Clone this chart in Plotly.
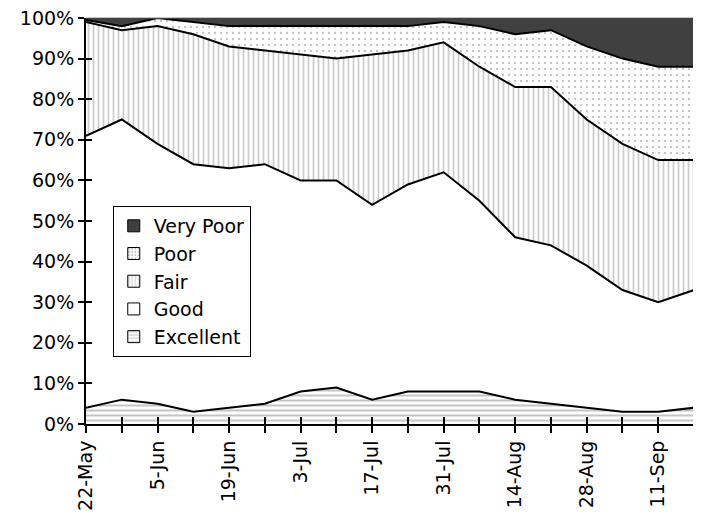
import plotly.graph_objects as go

dates = ["22-May", "29-May", "5-Jun", "12-Jun", "19-Jun", "26-Jun", "3-Jul", "10-Jul",
         "17-Jul", "24-Jul", "31-Jul", "7-Aug", "14-Aug", "21-Aug", "28-Aug", "4-Sep",
         "11-Sep", "18-Sep"]
tick_labels = ["22-May", "", "5-Jun", "", "19-Jun", "", "3-Jul", "", "17-Jul", "",
               "31-Jul", "", "14-Aug", "", "28-Aug", "", "11-Sep", ""]

excellent = [4, 6, 5, 3, 4, 5, 8, 9, 6, 8, 8, 8, 6, 5, 4, 3, 3, 4]
good = [67, 69, 64, 61, 59, 59, 52, 51, 48, 51, 54, 47, 40, 39, 35, 30, 27, 29]
fair = [28, 22, 29, 32, 30, 28, 31, 30, 37, 33, 32, 33, 37, 39, 36, 36, 35, 32]
poor = [0.5, 1, 2, 3, 5, 6, 7, 8, 7, 6, 5, 10, 13, 14, 18, 21, 23, 23]
very_poor = [0.5, 2, 0, 1, 2, 2, 2, 2, 2, 2, 1, 2, 4, 3, 7, 10, 12, 12]

x = list(range(len(dates)))

patterns = {
    "Excellent": dict(shape="-", fgcolor="#8a8a8a", bgcolor="white", size=5, solidity=0.4),
    "Good": None,
    "Fair": dict(shape="|", fgcolor="#9a9a9a", bgcolor="white", size=5, solidity=0.35),
    "Poor": dict(shape=".", fgcolor="#888888", bgcolor="white", size=6, solidity=0.12),
    "Very Poor": None,
}
fills = {"Excellent": "white", "Good": "white", "Fair": "white", "Poor": "white",
         "Very Poor": "#404040"}

fig = go.Figure()
series = [("Excellent", excellent), ("Good", good), ("Fair", fair), ("Poor", poor),
          ("Very Poor", very_poor)]
for name, vals in series:
    kw = dict(fillcolor=fills[name])
    if patterns[name]:
        kw["fillpattern"] = patterns[name]
    fig.add_trace(go.Scatter(
        x=x, y=vals, name=name, mode="lines", stackgroup="one", showlegend=False,
        line=dict(color="black", width=2), **kw))

# legend-only box symbols
for name, vals in series:
    marker = dict(color=fills[name], line=dict(color="black", width=1))
    if patterns[name]:
        pat = patterns[name]
        marker["pattern"] = dict(shape=pat["shape"], fgcolor=pat["fgcolor"],
                                 bgcolor="white", size=4, solidity=0.3)
    fig.add_trace(go.Bar(x=[None], y=[None], name=name, marker=marker, showlegend=True,
                         hoverinfo="skip"))

FAM = "DejaVu Sans, Liberation Sans, Arial, sans-serif"
fnt = dict(family=FAM, size=19, color="black")
fig.update_layout(
    width=701, height=514,
    margin=dict(l=78, r=15, t=10, b=98, autoexpand=False),
    paper_bgcolor="white", plot_bgcolor="white",
    font=fnt,
    showlegend=True,
    legend=dict(x=0.044, y=0.537, xanchor="left", yanchor="top",
                bgcolor="white", bordercolor="black", borderwidth=1,
                font=dict(family=FAM, size=19, color="black"),
                traceorder="reversed", tracegroupgap=0, itemwidth=30),
    xaxis=dict(range=[0, len(dates) - 1], tickmode="array", tickvals=x, ticktext=tick_labels,
               tickangle=-90, ticks="outside", ticklen=7, tickwidth=2, tickcolor="black",
               showline=True, linecolor="black", linewidth=2, showgrid=False, zeroline=False,
               mirror=False, tickfont=fnt, automargin=False, ticklabeloverflow="allow"),
    yaxis=dict(range=[0, 100], tickmode="array", tickvals=list(range(0, 101, 10)),
               ticktext=[f"{v}%" for v in range(0, 101, 10)],
               ticks="outside", ticklen=6, tickwidth=2, tickcolor="black",
               showline=True, linecolor="black", linewidth=2, showgrid=False, zeroline=False,
               tickfont=fnt, automargin=False, ticklabeloverflow="allow"),
    xaxis2=dict(overlaying="x", matches="x", side="bottom", tickmode="array", tickvals=x,
                ticktext=[""] * len(x), ticks="inside", ticklen=7, tickwidth=2, tickcolor="black",
                showgrid=False, zeroline=False, showline=False, automargin=False),
    yaxis2=dict(overlaying="y", matches="y", side="left", tickmode="array",
                tickvals=list(range(0, 101, 10)), ticktext=[""] * 11, ticks="inside",
                ticklen=6, tickwidth=2, tickcolor="black", showgrid=False, zeroline=False,
                showline=False, automargin=False),
    shapes=[dict(type="line", xref="x domain", yref="y domain", x0=1, x1=1, y0=0, y1=1,
                 line=dict(color="black", width=2)),
            dict(type="line", xref="x domain", yref="y domain", x0=0, x1=1, y0=1, y1=1,
                 line=dict(color="#888888", width=1))],
)
fig.add_trace(go.Scatter(x=[0], y=[0], xaxis="x2", yaxis="y2", mode="markers",
                         marker=dict(opacity=0), showlegend=False, hoverinfo="skip"))
fig.write_html("out.html")
